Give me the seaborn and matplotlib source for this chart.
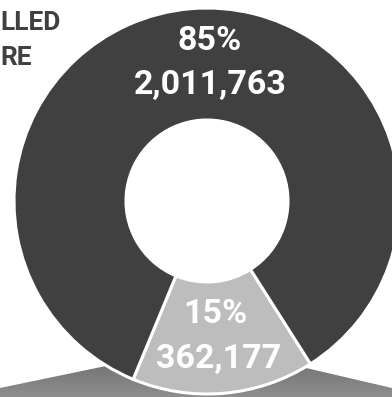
import numpy as np
import matplotlib
matplotlib.use("Agg")
import matplotlib.pyplot as plt
from matplotlib.patches import Polygon
import seaborn as sns

# ---- data ----
categories = ["Remaining", "Main"]
values = [362177, 2011763]
pct_labels = ["15%", "85%"]
slice_colors = ["#bdbdbd", "#404040"]
corner_lines = ["LLED", "RE"]

sns.set_theme(style="white")
plt.rcParams["font.family"] = ["Roboto", "DejaVu Sans"]

W, H = 392, 397
fig = plt.figure(figsize=(W / 100, H / 100), dpi=100)
ax = fig.add_axes([0, 0, 1, 1])

cx, cy = 207, H - 201
R, r_in = 193, 81

ax.pie(values, colors=slice_colors, startangle=247.5, counterclock=True,
       center=(cx, cy), radius=R,
       wedgeprops=dict(width=R - r_in, edgecolor="white", linewidth=2.2),
       frame=True)

# pedestal with gradient behind the donut
pts = np.array([[0, H - 388], [207, H - 345], [W, H - 388], [W, -5], [0, -5]])
poly = Polygon(pts, closed=True, facecolor="none", edgecolor="none")
ax.add_patch(poly)
grad = np.linspace(0, 1, 100).reshape(-1, 1)
img = ax.imshow(grad, cmap=matplotlib.colors.LinearSegmentedColormap.from_list(
    "g", ["#666666", "#8e8e8e"]), extent=(0, W, 0, H - 345), origin="upper",
    aspect="auto", zorder=0)
img.set_clip_path(poly)

ax.set_xlim(0, W)
ax.set_ylim(0, H)
ax.set_aspect("auto")
ax.axis("off")

fmt = [f"{v:,}" for v in values]
big = dict(color="white", fontsize=24.5, fontweight="bold", ha="center", va="center")
ax.text(210, H - 41, pct_labels[1], **big)
ax.text(210, H - 85, fmt[1], **big)
ax.text(215, H - 314, pct_labels[0], **big)
ax.text(219, H - 359, fmt[0], **big)

ax.text(0, H - 30, corner_lines[0], color="#404040", fontsize=19, fontweight="bold",
        ha="left", va="baseline")
ax.text(0, H - 65, corner_lines[1], color="#404040", fontsize=19, fontweight="bold",
        ha="left", va="baseline")

fig.savefig("out.png", dpi=100)
